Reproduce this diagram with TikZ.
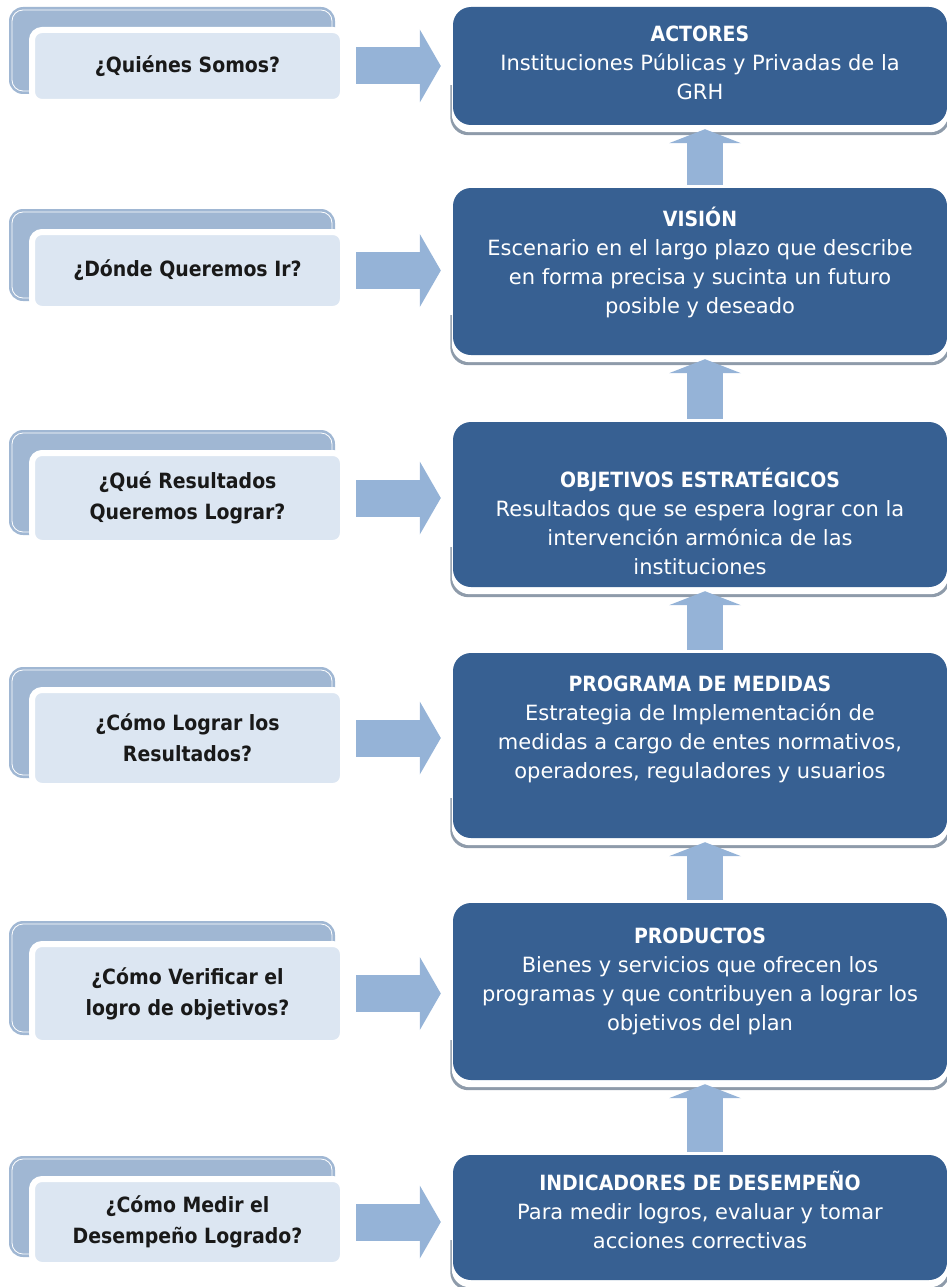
\documentclass[tikz,border=0pt]{standalone}
\usepackage{fontspec}
\setmainfont{DejaVu Sans}[BoldFeatures={FakeStretch=0.9}]
\usetikzlibrary{arrows.meta,calc,backgrounds}

\definecolor{stageblue}{HTML}{376092}
\definecolor{asklight}{HTML}{DCE6F2}
\definecolor{askdark}{HTML}{A0B7D3}
\definecolor{arrowblue}{HTML}{95B3D7}
\definecolor{rimgray}{HTML}{8E9BAA}

\tikzset{
  ask/.style={fill=asklight, draw=white, line width=6pt, rounded corners=10pt,
    minimum width=311pt, inner sep=0pt, align=center,
    font=\bfseries\fontsize{21}{31}\selectfont, text=black!90},
  askback/.style={fill=askdark, rounded corners=14pt},
  stage/.style={fill=stageblue, rounded corners=18pt, minimum width=494pt, inner sep=0pt},
  % base sits on the last line
  stagetext/.style={text=white, align=center, anchor=base, inner sep=0pt,
    font=\fontsize{21}{29}\selectfont},
  toright/.style={draw=arrowblue, line width=37pt, shorten <=10pt, shorten >=12pt,
    -{Triangle[length=21pt,width=73pt,line width=0pt]}},
  toup/.style={draw=arrowblue, line width=36pt, shorten <=3pt, shorten >=4pt,
    -{Triangle[length=14pt,width=72pt,line width=0pt]}},
}

\begin{document}
\begin{tikzpicture}[x=1pt, y=-1pt]
\useasboundingbox (0,0) rectangle (947,1287);

% Drawing the stage boxes
\node [stage, minimum height=118pt] (actores)   at (700,66)     {};%
\node [stage, minimum height=167pt] (vision)    at (700,271.5)  {};%
\node [stage, minimum height=165pt] (objetivos) at (700,504.5)  {};%
\node [stage, minimum height=185pt] (programa)  at (700,745.5)  {};%
\node [stage, minimum height=177pt] (productos) at (700,991.5)  {};%
\node [stage, minimum height=125pt] (indicad)   at (700,1217.5) {};%

% Writing the stage texts
\node [stagetext] (tactores) at (700,100)
  {\textbf{ACTORES}\\Instituciones Públicas y Privadas de la\\GRH};%
\node [stagetext] (tvision) at (700,313)
  {\textbf{VISIÓN}\\Escenario en el largo plazo que describe\\en forma precisa y sucinta un futuro\\posible y deseado};%
\node [stagetext] (tobjetivos) at (700,574)
  {\textbf{OBJETIVOS ESTRATÉGICOS}\\Resultados que se espera lograr con la\\intervención armónica de las\\instituciones};%
\node [stagetext] (tprograma) at (700,778)
  {\textbf{PROGRAMA DE MEDIDAS}\\Estrategia de Implementación de\\medidas a cargo de entes normativos,\\operadores, reguladores y usuarios};%
\node [stagetext] (tproductos) at (700,1030)
  {\textbf{PRODUCTOS}\\Bienes y servicios que ofrecen los\\programas y que contribuyen a lograr los\\objetivos del plan};%
\node [stagetext] (tindicad) at (700,1248)
  {\textbf{INDICADORES DE DESEMPEÑO}\\Para medir logros, evaluar y tomar\\acciones correctivas};%

% Drawing the question boxes
\node [ask, minimum height=72pt] (quienes)   at (187.5,66)    {¿Quiénes Somos?};%
\node [ask, minimum height=77pt] (donde)     at (187.5,270.5) {¿Dónde Queremos Ir?};%
\node [ask, minimum height=90pt] (que)       at (187.5,498)   {¿Qué Resultados\\Queremos Lograr?};%
\node [ask, minimum height=96pt] (como)      at (187.5,738)   {¿Cómo Lograr los\\Resultados?};%
\node [ask, minimum height=99pt] (verificar) at (187.5,993.5) {¿Cómo Verificar el\\logro de objetivos?};%
\node [ask, minimum height=86pt] (medir)     at (187.5,1222)  {¿Cómo Medir el\\Desempeño Logrado?};%

\begin{scope}[on background layer]
  % Rims under the stage boxes
  \foreach \s in {actores,vision,objetivos,programa,productos,indicad}{
    \begin{scope}
      \clip ($(\s.south west)+(-10,-40)$) rectangle ($(\s.south east)+(10,20)$);
      \fill [rimgray, rounded corners=18pt]
        ($(\s.north west)+(-2.5,10)$) rectangle ($(\s.south east)+(2.5,10)$);%
      \fill [white, rounded corners=18pt]
        ($(\s.north west)+(-1,7)$) rectangle ($(\s.south east)+(1,7)$);%
    \end{scope}
  }
  % Tabs behind the question boxes
  \foreach \q in {quienes,donde,que,como,verificar,medir}{
    \fill [askback]
      ($(\q.north west)+(-20,-20)$) rectangle ($(\q.south east)+(-11,-11)$);%
    \draw [white, line width=0.8pt, rounded corners=11pt]
      ($(\q.north west)+(-17,-17)$) rectangle ($(\q.south east)+(-14,-14)$);%
  }
\end{scope}

% Arrows from the questions to the stages
\draw [toright] (quienes.east)   -- (quienes.east -| actores.west);%
\draw [toright] (donde.east)     -- (donde.east -| vision.west);%
\draw [toright] (que.east)       -- (que.east -| objetivos.west);%
\draw [toright] (como.east)      -- (como.east -| programa.west);%
\draw [toright] (verificar.east) -- (verificar.east -| productos.west);%
\draw [toright] (medir.east)     -- (medir.east -| indicad.west);%

% Arrows climbing from stage to stage
\draw [toup] ([xshift=5pt]vision.north)    -- ([xshift=5pt]actores.south);%
\draw [toup] ([xshift=5pt]objetivos.north) -- ([xshift=5pt]vision.south);%
\draw [toup] ([xshift=5pt]programa.north)  -- ([xshift=5pt]objetivos.south);%
\draw [toup] ([xshift=5pt]productos.north) -- ([xshift=5pt]programa.south);%
\draw [toup] ([xshift=5pt]indicad.north)   -- ([xshift=5pt]productos.south);%
\end{tikzpicture}
\end{document}
